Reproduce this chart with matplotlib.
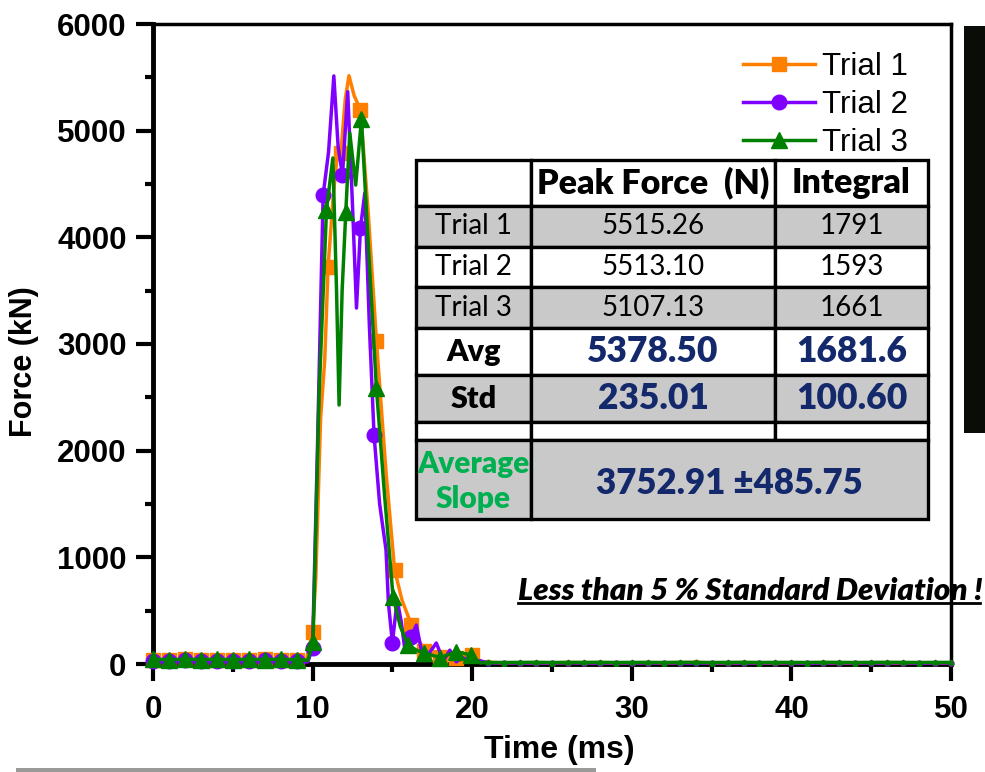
import numpy as np
import matplotlib
matplotlib.use("Agg")
import matplotlib.pyplot as plt
from matplotlib.patches import Rectangle
from matplotlib.ticker import MultipleLocator

# ---------------- data ----------------
labels = ["Trial 1", "Trial 2", "Trial 3"]
colors = ["#FF8000", "#8000FF", "#008000"]
markers = ["s", "o", "^"]

base_t = [0, 1, 2, 3, 4, 5, 6, 7, 8, 9]
tail_t = list(range(21, 51))

# Trial 1
t1 = base_t + [9.6, 10.0, 10.2, 10.5, 10.76, 10.97, 11.3, 11.58, 11.77, 12.05, 12.28,
               12.6, 13.0, 13.5, 14.0, 14.6, 15.14, 15.6, 16.19, 17.0, 18.0, 19.0,
               20.0, 20.6] + tail_t
f1 = [40, 35, 45, 40, 38, 42, 40, 45, 38, 40] + [30, 303, 800, 2300, 2850, 3725, 4400,
      4820, 4790, 5300, 5515, 5330, 5194, 4200, 3028, 1800, 881, 600, 366, 120, 70, 60,
      84, 20] + [15, 10, 12, 8, 10, 14, 12, 10, 9, 11, 13, 10, 12, 15, 10, 8, 12, 10, 9,
                 11, 10, 12, 8, 10, 11, 9, 10, 12, 10, 9]
m1 = base_t + [10.0, 10.97, 11.77, 13.0, 14.0, 15.14, 16.19, 17.0, 18.0, 19.0, 20.0]

# Trial 2
t2 = base_t + [9.7, 10.0, 10.3, 10.66, 11.0, 11.33, 11.6, 11.87, 12.2, 12.5, 12.75,
               13.0, 13.27, 13.55, 13.85, 14.2, 14.6, 14.75, 15.0, 15.3, 15.55, 15.8,
               16.15, 16.5, 16.9, 17.3, 17.75, 18.2, 18.6, 19.0, 19.4, 20.0, 20.5] + tail_t
f2 = [30, 25, 35, 30, 28, 32, 30, 35, 28, 30] + [20, 150, 2000, 4397, 4800, 5513, 4850,
      4584, 5365, 4300, 3337, 4087, 4415, 3200, 2147, 1500, 1069, 572, 200, 600, 400,
      115, 250, 365, 70, 100, 197, 30, 130, 20, 60, 15, 30] + [10, 12, 8, 10, 9, 12, 10,
                                                           8, 11, 10, 9, 12, 10, 8, 10,
                                                           11, 9, 10, 12, 10, 8, 9, 11,
                                                           10, 9, 10, 12, 8, 10, 9]
m2 = base_t + [10.0, 10.66, 11.87, 13.0, 13.85, 15.0, 16.15]

# Trial 3
t3 = base_t + [9.7, 10.03, 10.4, 10.87, 11.27, 11.5, 11.66, 11.85, 12.08, 12.33, 12.7,
               13.06, 13.5, 14.0, 14.5, 15.04, 15.5, 15.98, 16.5, 17.0, 18.0, 19.0,
               19.94, 20.5] + tail_t
f3 = [45, 40, 45, 42, 45, 40, 45, 42, 45, 40] + [35, 209, 2500, 4256, 4744, 3500, 2428,
      3500, 4240, 4978, 4490, 5107, 3900, 2585, 1600, 631, 350, 178, 130, 103, 60, 115,
      84, 10] + [15, 14, 15, 16, 14, 15, 15, 16, 14, 15, 15, 14, 16, 15, 14, 15, 16, 14,
                 15, 15, 14, 16, 15, 14, 15, 16, 15, 14, 15, 15]
m3 = base_t + [10.03, 10.87, 12.08, 13.06, 14.0, 15.04, 15.98, 17.0, 18.0, 19.0, 19.94]

series = [(t1, f1, m1), (t2, f2, m2), (t3, f3, m3)]
marker_sizes = [9.5, 10.5, 12]

# summary table
table_header = ["", "Peak Force  (N)", "Integral"]
trial_peak = ["5515.26", "5513.10", "5107.13"]
trial_integral = ["1791", "1593", "1661"]
avg_vals = ["5378.50", "1681.6"]
std_vals = ["235.01", "100.60"]
slope_label = "Average\nSlope"
slope_value = "3752.91 \u00b1485.75"
note_text = "Less than 5 % Standard Deviation !"

# ---------------- figure ----------------
W, H = 985, 772
fig = plt.figure(figsize=(W / 100, H / 100), dpi=100)
fig.patch.set_facecolor("white")

AX_L, AX_R, AX_T, AX_B = 153, 951, 24, 664
ax = fig.add_axes([AX_L / W, 1 - AX_B / H, (AX_R - AX_L) / W, (AX_B - AX_T) / H])
sans = "Liberation Sans"

for (t, f, m), c, mk, ms, lab in zip(series, colors, markers, marker_sizes, labels):
    t = np.asarray(t, float)
    f = np.asarray(f, float)
    big = np.isin(t, m)
    ax.plot(t, f, color=c, lw=2.5, marker=mk, ms=ms, markevery=list(np.where(big)[0]),
            label=lab, zorder=3, clip_on=False)
    tail = t >= 21
    ax.plot(t[tail], f[tail], ls="none", marker=mk, ms=3.5, color=c, zorder=3,
            clip_on=False)

ax.set_xlim(0, 50)
ax.set_ylim(0, 6000)
ax.xaxis.set_major_locator(MultipleLocator(10))
ax.xaxis.set_minor_locator(MultipleLocator(5))
ax.yaxis.set_major_locator(MultipleLocator(1000))
ax.yaxis.set_minor_locator(MultipleLocator(500))
ax.tick_params(which="major", direction="out", length=12, width=3, pad=7)
ax.tick_params(which="minor", direction="out", length=6, width=3)
ax.tick_params(axis="x", which="major", pad=10)
for lbl in ax.get_xticklabels() + ax.get_yticklabels():
    lbl.set_fontfamily(sans)
    lbl.set_fontweight("bold")
    lbl.set_fontsize(22.5)
for s in ["left", "bottom"]:
    ax.spines[s].set_linewidth(3.5)
for s in ["top", "right"]:
    ax.spines[s].set_linewidth(2.5)

ax.set_xlabel("Time (ms)", family=sans, weight="bold", fontsize=23)
ax.set_ylabel("Force (kN)", family=sans, weight="bold", fontsize=22)
ax.xaxis.label.set_va("center")
ax.yaxis.label.set_va("center")
ax.xaxis.set_label_coords((559 - AX_L) / (AX_R - AX_L), -(750 - AX_B) / (AX_B - AX_T))
ax.yaxis.set_label_coords(-(AX_L - 24) / (AX_R - AX_L), (AX_B - 362) / (AX_B - AX_T))

leg = ax.legend(loc="upper left", bbox_to_anchor=(727 / W, 1 - 36 / H),
                bbox_transform=fig.transFigure, frameon=False, borderpad=0,
                handlelength=2.3, handletextpad=0.25, labelspacing=0.26,
                prop={"family": sans, "size": 22.5})

# ---------------- overlay (table, note, page edges) ----------------
ov = fig.add_axes([0, 0, 1, 1], zorder=10)
ov.set_xlim(0, W)
ov.set_ylim(H, 0)
ov.axis("off")

col_x = [416, 531, 775, 928]
row_y = [160, 206, 247, 287, 328, 375, 422, 440, 519]
gray = "#c9c9c9"
fills = ["white", gray, "white", gray, "white", gray, "white", gray]
navy = "#14296b"
green_txt = "#00b050"
tf = "Lato"

for r in range(len(row_y) - 1):
    y0, y1 = row_y[r], row_y[r + 1]
    if r == len(row_y) - 2:
        spans = [(col_x[0], col_x[1]), (col_x[1], col_x[3])]
    else:
        spans = [(col_x[i], col_x[i + 1]) for i in range(3)]
    for x0, x1 in spans:
        ov.add_patch(Rectangle((x0, y0), x1 - x0, y1 - y0, facecolor=fills[r],
                               edgecolor="black", lw=2.4))

def cell_text(r, c, s, **kw):
    xc = (col_x[c] + col_x[c + 1]) / 2
    yc = (row_y[r] + row_y[r + 1]) / 2
    ov.text(xc, yc, s, ha="center", va="center", family=tf, **kw)

cell_text(0, 1, table_header[1], fontsize=24.5, weight="heavy", color="black")
cell_text(0, 2, table_header[2], fontsize=24.5, weight="heavy", color="black")
for i in range(3):
    cell_text(1 + i, 0, labels[i], fontsize=20, color="black")
    cell_text(1 + i, 1, trial_peak[i], fontsize=20, color="black")
    cell_text(1 + i, 2, trial_integral[i], fontsize=20, color="black")
cell_text(4, 0, "Avg", fontsize=22, weight="heavy", color="black")
cell_text(5, 0, "Std", fontsize=22, weight="heavy", color="black")
for c in (1, 2):
    cell_text(4, c, avg_vals[c - 1], fontsize=25.5, weight="heavy", color=navy)
    cell_text(5, c, std_vals[c - 1], fontsize=25.5, weight="heavy", color=navy)
ov.text((col_x[0] + col_x[1]) / 2, (row_y[7] + row_y[8]) / 2 + 2, slope_label,
        ha="center", va="center", family=tf, fontsize=21.5, weight="heavy",
        color=green_txt, linespacing=1.3)
ov.text((col_x[1] + col_x[3]) / 2, (row_y[7] + row_y[8]) / 2 + 4, slope_value,
        ha="center", va="center", family=tf, fontsize=25, weight="heavy", color=navy)

ov.text(518, 591, note_text, ha="left", va="center", family=tf, fontsize=22.5,
        weight="heavy", style="italic", color="black")
ov.plot([518, 980], [603, 603], color="black", lw=2)

# dark strip on the right edge and grey strip along the bottom
ov.add_patch(Rectangle((964, 26), 21, 407, facecolor="#0a0c08", edgecolor="none"))
ov.add_patch(Rectangle((16, 768), 580, 4, facecolor="#9a9a98", edgecolor="none"))

fig.savefig("out.png", dpi=100, facecolor="white")
